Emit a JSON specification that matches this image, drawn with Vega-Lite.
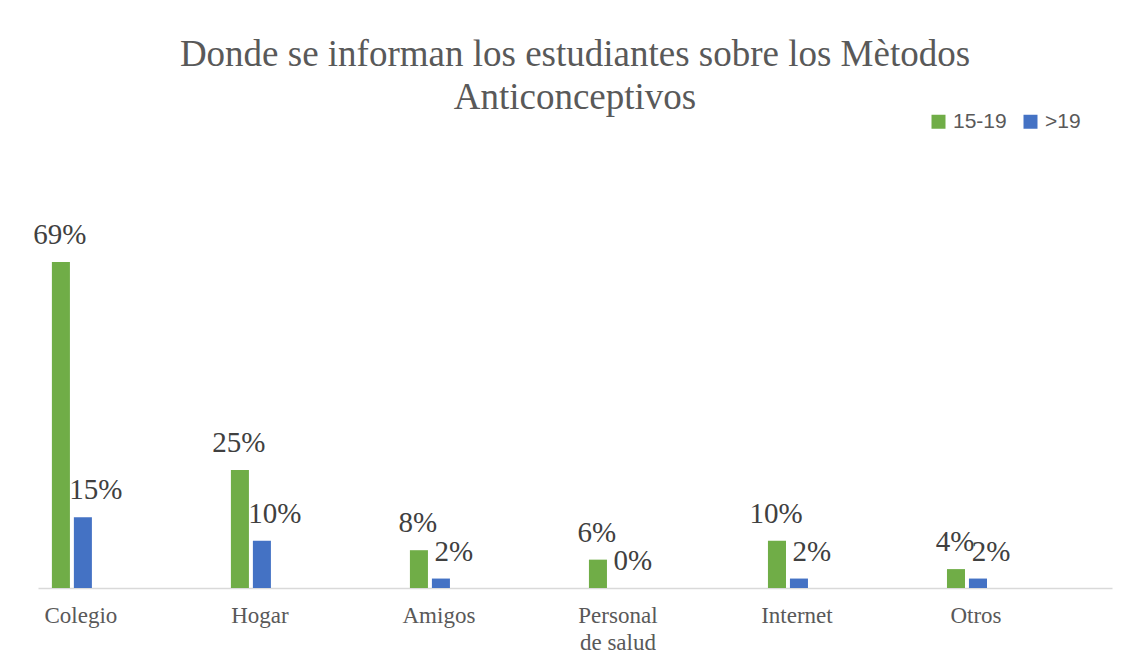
{
  "$schema": "https://vega.github.io/schema/vega-lite/v6.json",
  "width": 1074,
  "height": 378,
  "autosize": {"type": "none"},
  "padding": {"left": 38, "top": 210, "right": 14, "bottom": 80},
  "background": "white",
  "config": {"view": {"stroke": null}},
  "title": {
    "text": ["Donde se informan los estudiantes sobre los Mètodos", "Anticonceptivos"],
    "font": "Liberation Serif",
    "fontSize": 37,
    "fontWeight": "normal",
    "color": "#595959",
    "lineHeight": 43,
    "anchor": "middle",
    "offset": -6
  },
  "data": {
    "values": [
      {"categoria": "Colegio", "edad": "15-19", "valor": 0.69},
      {"categoria": "Colegio", "edad": ">19", "valor": 0.15},
      {"categoria": "Hogar", "edad": "15-19", "valor": 0.25},
      {"categoria": "Hogar", "edad": ">19", "valor": 0.10},
      {"categoria": "Amigos", "edad": "15-19", "valor": 0.08},
      {"categoria": "Amigos", "edad": ">19", "valor": 0.02},
      {"categoria": "Personal de salud", "edad": "15-19", "valor": 0.06},
      {"categoria": "Personal de salud", "edad": ">19", "valor": 0.0},
      {"categoria": "Internet", "edad": "15-19", "valor": 0.10},
      {"categoria": "Internet", "edad": ">19", "valor": 0.02},
      {"categoria": "Otros", "edad": "15-19", "valor": 0.04},
      {"categoria": "Otros", "edad": ">19", "valor": 0.02}
    ]
  },
  "encoding": {
    "x": {
      "field": "categoria",
      "type": "nominal",
      "sort": null,
      "scale": {"paddingInner": 0.7765, "paddingOuter": 0.388, "align": 0.1},
      "axis": {
        "title": null,
        "labelAngle": 0,
        "labelFont": "Liberation Serif",
        "labelFontSize": 23,
        "labelColor": "#595959",
        "labelOffset": 9,
        "labelPadding": 16,
        "labelLineHeight": 27,
        "labelExpr": "datum.label == 'Personal de salud' ? ['Personal', 'de salud'] : datum.label",
        "ticks": false,
        "domainColor": "#D9D9D9",
        "domainWidth": 1.5,
        "grid": false
      }
    },
    "xOffset": {
      "field": "edad",
      "type": "nominal",
      "sort": ["15-19", ">19"],
      "scale": {"paddingInner": 0.18, "paddingOuter": 0}
    },
    "y": {
      "field": "valor",
      "type": "quantitative",
      "scale": {"domain": [0, 0.8], "nice": false},
      "axis": null
    }
  },
  "layer": [
    {
      "mark": {"type": "bar"},
      "encoding": {
        "color": {
          "field": "edad",
          "type": "nominal",
          "sort": ["15-19", ">19"],
          "scale": {"domain": ["15-19", ">19"], "range": ["#70AD47", "#4472C4"]},
          "legend": {
            "title": null,
            "orient": "none",
            "direction": "horizontal",
            "legendX": 890,
            "legendY": -99,
            "symbolType": "square",
            "symbolSize": 196,
            "symbolStrokeWidth": 0,
            "labelFont": "Liberation Sans",
            "labelFontSize": 21,
            "labelColor": "#595959",
            "labelOffset": 4,
            "columnPadding": 13,
            "padding": 0
          }
        }
      }
    },
    {
      "transform": [{"filter": "datum.edad == '15-19'"}],
      "mark": {
        "type": "text",
        "font": "Liberation Serif",
        "fontSize": 29,
        "color": "#404040",
        "baseline": "alphabetic",
        "dy": -18,
        "dx": -1
      },
      "encoding": {
        "text": {"field": "valor", "type": "quantitative", "format": ".0%"}
      }
    },
    {
      "transform": [{"filter": "datum.edad == '>19'"}],
      "mark": {
        "type": "text",
        "font": "Liberation Serif",
        "fontSize": 29,
        "color": "#404040",
        "baseline": "alphabetic",
        "dy": -18,
        "dx": 13
      },
      "encoding": {
        "text": {"field": "valor", "type": "quantitative", "format": ".0%"}
      }
    }
  ]
}
